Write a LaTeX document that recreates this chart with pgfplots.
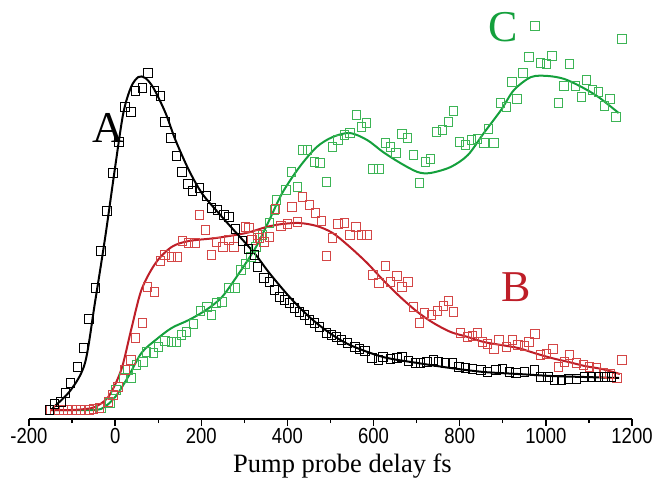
\documentclass[border=0pt]{standalone}
\usepackage{fontspec}
\setmainfont{Liberation Serif}
\setsansfont{Liberation Sans}
\usepackage{pgfplots}
\pgfplotsset{compat=1.18}
\definecolor{redline}{RGB}{190,30,40}
\definecolor{redmark}{RGB}{212,70,70}
\definecolor{greenline}{RGB}{20,160,60}
\definecolor{greenmark}{RGB}{60,180,85}
\newcommand\scl[1]{\scalebox{1}[1.18]{#1}}
\begin{document}
\begin{tikzpicture}
\path[use as bounding box] (-29pt,-66pt) rectangle (623pt,419pt);
\begin{axis}[
  at={(0pt,0pt)}, anchor=south west,
  scale only axis, width=603pt, height=419pt,
  xmin=-200, xmax=1200, ymin=-2, ymax=417,
  axis x line*=bottom, hide y axis, clip=false,
  axis line style={line width=1.6pt},
  xtick={-200,0,200,400,600,800,1000,1200},
  xticklabels={\scl{-200},\scl{0},\scl{200},\scl{400},\scl{600},\scl{800},\scl{1000},\scl{1200}},
  minor xtick={-100,100,300,500,700,900,1100},
  tick align=outside,
  major tick length=7pt, minor tick length=4pt,
  every tick/.style={line width=1.3pt, black},
  xticklabel style={font=\sffamily\fontsize{18.5}{18.5}\selectfont, yshift=1pt},
  xlabel={Pump probe delay fs},
  xlabel style={font=\rmfamily\fontsize{26.5}{26.5}\selectfont, xshift=12pt, yshift=-3pt},
  mark options={solid, fill=none, line width=1pt},
]
% ---- C (green) ----
\addplot[only marks, mark=square, mark size=4.2pt, greenmark] table {
x y
-33 9
-12 14
2 27
19 39
30 47
37 39
49 52
65 55
73 65
89 64
101 70
116 76
131 75
143 75
154 82
166 85
182 93
198 106
213 110
224 102
236 114
248 115
264 129
278 129
292 147
303 153
315 160
327 170
330 179
342 182
358 194
370 207
374 217
397 227
409 245
423 230
435 267
447 267
463 255
476 254
491 235
505 270
517 277
533 282
545 284
561 302
572 290
584 294
599 248
613 248
627 274
639 270
652 264
666 283
679 279
692 262
706 234
720 255
732 258
746 285
760 287
774 295
786 306
800 275
814 272
827 277
841 278
856 274
867 288
880 274
894 314
908 310
921 335
933 318
947 344
961 360
975 391
987 354
1001 353
1014 361
1029 314
1042 331
1055 353
1069 331
1083 320
1095 337
1108 327
1122 325
1136 311
1149 318
1163 300
1177 378
};
\addplot[greenline, line width=2pt, smooth, tension=0.5] table {
x y
-150 7
-80 7
-33 8
0 20
30 40
61 64
94 77
131 89
171 97
211 107
248 120
288 144
327 170
358 197
388 224
428 250
468 270
505 280
545 284
585 277
622 265
662 254
702 245
732 244
779 250
819 262
856 284
896 307
926 327
966 340
1005 341
1043 338
1083 330
1122 320
1169 304
};
% ---- B (red) ----
\addplot[only marks, mark=square, mark size=4.2pt, redmark] table {
x y
-150 7
-140 7
-130 7
-120 7
-110 7
-100 7
-90 7
-80 7
-70 7
-60 7
-50 8
-36 9
-16 15
-5 22
7 30
23 47
37 57
47 79
63 94
75 130
91 125
105 156
116 162
131 160
145 160
157 176
171 174
185 174
196 202
210 187
224 162
236 175
250 170
264 177
276 170
303 190
311 189
318 177
330 182
335 179
346 175
358 180
372 208
385 191
400 193
411 210
423 195
435 220
451 212
465 204
479 196
491 161
505 179
517 193
533 194
545 182
559 190
572 182
585 182
599 142
613 134
627 151
639 135
654 141
666 130
680 135
692 110
706 94
718 104
735 102
749 106
762 111
774 116
786 105
802 84
818 80
830 81
841 84
853 75
865 73
880 68
891 77
908 70
923 77
935 72
950 71
961 75
975 83
987 62
1001 63
1017 68
1029 50
1043 55
1055 62
1071 54
1087 52
1102 50
1118 49
1134 44
1149 43
1165 39
1177 57
};
\addplot[redline, line width=2pt, smooth, tension=0.5] table {
x y
-150 7
-100 7
-70 8
-47 10
-16 20
14 47
37 87
61 127
94 154
131 170
171 176
234 179
304 184
351 190
388 193
428 194
468 191
505 184
545 170
585 154
622 137
662 120
702 105
739 94
779 85
819 80
856 75
896 72
936 69
973 64
1013 59
1053 55
1090 51
1130 48
1172 43
};
% ---- A (black) ----
\addplot[only marks, mark=square, mark size=4.2pt, black] table {
x y
-153 7
-141 13
-126 15
-115 24
-103 34
-87 50
-73 69
-61 98
-45 129
-33 166
-19 206
-5 244
9 275
23 310
37 305
47 326
63 329
76 344
91 326
105 321
116 295
130 279
142 261
155 245
169 233
180 226
196 229
212 221
224 209
237 207
253 202
264 200
280 188
295 176
309 168
323 162
330 150
346 139
358 135
370 127
381 120
393 117
405 114
416 109
428 105
440 102
451 97
463 94
475 90
491 84
502 82
514 80
526 77
540 74
557 70
568 68
580 66
596 59
611 57
622 60
639 58
654 59
666 60
681 56
697 54
709 54
724 55
739 57
751 55
767 54
783 54
798 50
814 49
830 48
849 47
865 45
884 47
900 48
915 45
931 44
950 45
973 47
989 40
1005 40
1020 37
1036 37
1052 38
1071 38
1090 40
1106 40
1122 40
1137 40
1153 40
};
\addplot[black, line width=2pt, smooth, tension=0.5] table {
x y
-145 9
-103 27
-70 54
-47 114
-23 180
0 250
19 304
37 330
54 340
70 339
89 329
117 304
140 277
171 247
201 224
234 207
271 189
323 164
358 144
405 120
451 100
498 84
545 72
622 60
702 54
779 49
856 45
936 43
1013 41
1090 40
1170 39
};
\node[font=\rmfamily\fontsize{44}{44}\selectfont, black] at (axis cs:-16,289) {A};
\node[font=\rmfamily\fontsize{44}{44}\selectfont, redline] at (axis cs:931,130) {B};
\node[font=\rmfamily\fontsize{44}{44}\selectfont, greenline] at (axis cs:900,390) {C};
\end{axis}
\end{tikzpicture}
\end{document}
